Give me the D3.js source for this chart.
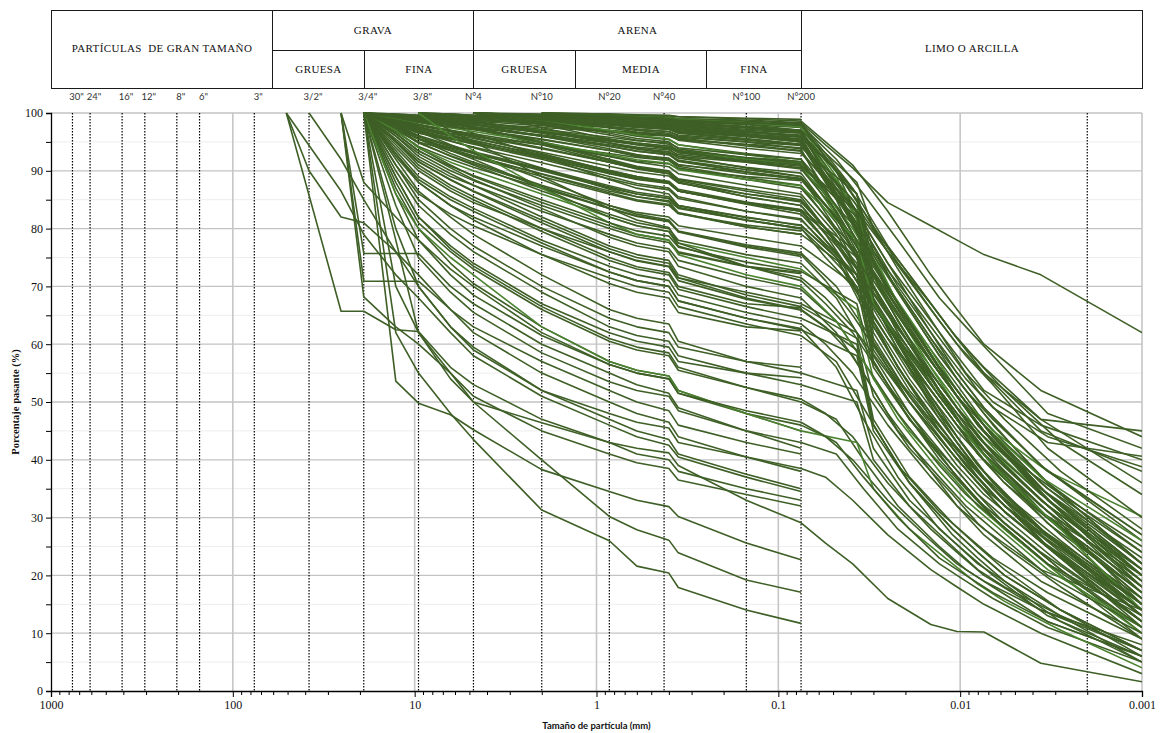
<!DOCTYPE html>
<html>
<head>
<meta charset="utf-8">
<script src="https://cdn.jsdelivr.net/npm/d3@7"></script>
<style>
  body { margin: 0; background: #fff; }
  svg { display: block; }
</style>
</head>
<body>
<svg id="chart" width="1161" height="733"></svg>
<script>
const _ = null;

// Sieve openings (mm): 2", 1 1/2", 1", 3/4", 1/2", 3/8", 1/4", N°4, N°10, N°20, N°30, N°40, N°45, N°100, N°200
const sieveSizes = [50.8, 38.1, 25.4, 19.05, 12.7, 9.525, 6.35, 4.75, 2.0, 0.85, 0.6, 0.40, 0.355, 0.15, 0.075];

// Hydrometer equivalent diameters (mm) for the three reading series
const hydroSizes = [
  [0.037, 0.030, 0.019, 0.011, 0.008, 0.0057, 0.0028, 0.001],
  [0.048, 0.034, 0.022, 0.013, 0.0093, 0.0066, 0.0033, 0.001],
  [0.055, 0.039, 0.025, 0.0145, 0.0104, 0.0074, 0.0036, 0.001]
];

// Samples with sieve analysis only (% passing per sieve)
const coarseSamples = [
  [100, _, 65.7, 65.7, 62.5, 62.2, 56, 53, 47, 43, 41, 40, 38, 35, 33],
  [100, 90, 82, 81, 76, 72, 66, 62, 55, 50, 48, 46.5, 44, 40.5, 38],
  [100, _, 86.5, 79, 72, 68, 62, 58, 51, 46, 44, 42.5, 40.5, 37, 34.5],
  [_, _, 100, 75.7, 75.7, 75.7, 70, 67, 60, 55, 53, 51.5, 49, 45, 42],
  [_, _, 100, 70.9, 70.9, 70.9, 66, 63, 57, 52, 50, 48.5, 46, 43, 41],
  [_, _, 100, 68.2, 63, 60, 55, 51, 45, 41, 39.5, 38.5, 36.5, 34, 32],
  [_, 100, 92, 85, 76, 70, 63, 59, 52, 47, 45, 43.5, 41, 37.5, 35],
  [_, _, _, 100, 62, 55, 48, 43.5, 31.3, 26, 21.6, 20.4, 17.9, 14, 11.7],
  [_, _, _, 100, 70, 62, 55, 50, 40, 30.2, 27.9, 26.1, 23.9, 19.2, 17.1],
  [_, _, _, 100, 53.6, 49.8, 47.8, 45.2, 38.3, 34.5, 33, 31.9, 30.2, 25.6, 22.7]
];

const sandySamples = [
  [_, _, _, _, _, _, _, 100, 99.6, 99.2, 99, 98.8, 98.6, 98.2, 98],
  [_, _, _, _, _, 100, 99.5, 99, 98, 97, 96.6, 96.3, 95.8, 95, 94.4],
  [_, _, _, 100, 99, 98, 97, 96.4, 94.5, 92.5, 91.7, 91.2, 90.3, 89, 88.3],
  [_, _, _, _, _, _, _, 100, 98.5, 96.5, 95.6, 95, 93.8, 92.2, 91.4],
  [_, _, _, 100, 97.5, 95.5, 93.5, 92.3, 89, 86, 84.8, 84, 82.6, 80.6, 79.6],
  [_, _, _, 100, 96, 93, 90, 88.3, 84, 80, 78.6, 77.6, 75.8, 73.4, 72.2],
  [_, _, _, 100, 98.5, 97, 95.2, 94, 90.5, 86.8, 85.5, 84.6, 82.8, 80.3, 79],
  [_, _, _, _, _, 100, 98, 96.5, 92.5, 88.5, 87, 86, 84, 81.5, 80],
  [_, _, _, 100, 95, 91, 87.5, 85.5, 80, 75, 73.4, 72.4, 70, 67, 66.3],
  [_, _, _, 100, 93, 88, 84, 81.5, 75.5, 70.5, 69, 68, 65.5, 63, 62.3],
  [_, _, _, 100, 97, 94, 91, 89, 84.5, 80.5, 79, 78, 76, 73.5, 72.4],
  [_, _, _, _, _, _, _, 100, 99, 98, 97.6, 97.3, 96.9, 96.2, 95.4],
  [_, _, _, 100, 91, 85, 80, 77, 70, 64.5, 63, 62, 59.5, 57, 56],
  [_, _, _, 100, 89, 82, 77, 74, 67, 62, 60.5, 59.5, 57, 55, 54.2],
  [_, _, _, 100, 87, 80, 74, 70.5, 63, 57, 55.5, 54.5, 52, 48, 45],
  [_, _, _, _, _, _, _, _, 100, 99.8, 99.7, 99.6, 99.4, 99.1, 98.9],
  [_, _, _, _, _, 100, 99.8, 99.5, 98.9, 98.2, 97.9, 97.6, 97.1, 96.3, 95.8],
  [_, _, _, 100, 99.5, 99, 98.4, 98, 96.7, 95.2, 94.6, 94.1, 93.3, 92.1, 91.2],
  [_, _, _, 100, 98.8, 97.5, 96.2, 95.3, 92.6, 89.8, 88.7, 87.9, 86.5, 84.3, 83],
  [_, _, _, 100, 97.2, 94.8, 92.6, 91.2, 87.3, 83.5, 82.1, 81.2, 79.4, 76.8, 75.2]
];

// Samples with sieve + hydrometer analysis: [series, sieve passing, hydrometer passing]
const fineSamples = [
  [2, [_, _, _, _, _, _, _, 100, 99.8, 99.5, 99.3, 99.2, 99, 98.8, 98.3], [94.5, 90.5, 84.5, 80.5, 78, 75.5, 72, 62]],
  [0, [_, _, _, _, _, _, _, 100, 99.6, 99.2, 99, 98.8, 98.5, 98, 97.5], [86, 74, 64, 54, 48, 43, 34, 22]],
  [1, [_, _, _, _, _, 100, 99.8, 99.6, 99.2, 98.8, 98.5, 98.2, 97.8, 97, 96.5], [90, 80, 69, 58, 52, 46, 36, 24]],
  [2, [_, _, _, _, _, _, _, _, 100, 99.5, 99.2, 99, 98.6, 98, 97], [91, 84, 74, 64, 58, 52, 46, 40]],
  [0, [_, _, _, 100, 99.8, 99.6, 99.4, 99.2, 98.8, 98.2, 97.8, 97.4, 96.8, 96, 95], [82, 68, 58, 48, 42, 37, 28, 17]],
  [1, [_, _, _, _, _, _, _, 100, 99.5, 99, 98.7, 98.4, 98, 97.4, 96.8], [88, 80, 70, 60, 54, 49, 43, 40.6]],
  [0, [_, _, _, _, _, 100, 99.7, 99.4, 99, 98.5, 98.2, 98, 97.5, 96.8, 96], [84, 71, 61, 51, 45, 40, 31, 19]],
  [2, [_, _, _, _, _, _, _, _, 100, 99.7, 99.5, 99.3, 99, 98.6, 98.2], [93, 87, 77, 67, 61, 55, 47, 45]],
  [1, [_, _, _, 100, 99.6, 99.3, 99, 98.7, 98.2, 97.6, 97.2, 96.8, 96.2, 95.3, 94.5], [86, 77, 66, 55, 49, 43, 33, 20]],
  [0, [_, _, _, _, _, _, _, 100, 99.4, 98.8, 98.4, 98.1, 97.6, 96.8, 95.8], [80, 65, 55, 45, 39, 34, 26, 15]],
  [2, [_, _, _, _, _, 100, 99.5, 99.2, 98.6, 98, 97.6, 97.2, 96.6, 95.6, 94.6], [90, 84, 74, 62, 55, 49, 39, 26]],
  [1, [_, _, _, _, _, _, _, 100, 99.6, 99.3, 99.1, 98.9, 98.6, 98.2, 97.8], [90, 83, 73, 62, 55, 50, 44, 38.8]],
  [0, [_, _, _, 100, 99.5, 99, 98.6, 98.2, 97.5, 96.8, 96.3, 96, 95.4, 94.5, 93.5], [78, 62, 52, 43, 37, 32, 24, 13]],
  [1, [_, _, _, _, _, _, _, _, 100, 99.2, 98.9, 98.6, 98.2, 97.5, 96.7], [87, 78, 67, 56, 50, 44, 35, 24]],
  [2, [_, _, _, _, _, 100, 99.6, 99.3, 98.8, 98.3, 98, 97.7, 97.2, 96.4, 95.5], [89, 82, 72, 61, 54, 48, 37, 22]],
  [0, [_, _, _, _, _, _, _, 100, 99.7, 99.4, 99.2, 99, 98.8, 98.4, 98], [85, 72, 62, 52, 46, 41, 34, 25]],
  [1, [_, _, _, 100, 99.7, 99.4, 99.1, 98.9, 98.4, 97.9, 97.5, 97.2, 96.7, 95.9, 95], [85, 75, 64, 52, 45, 39, 30, 16]],
  [2, [_, _, _, _, _, _, _, 100, 99.3, 98.7, 98.3, 98, 97.3, 96.3, 95], [88, 81, 70, 58, 51, 45, 35, 21]],
  [0, [_, _, _, _, _, 100, 99.5, 99, 98.3, 97.6, 97.2, 96.8, 96, 95, 93.8], [76, 60, 50, 41, 36, 31, 23, 11]],
  [1, [_, _, _, _, _, _, _, _, 100, 99.6, 99.4, 99.2, 98.9, 98.3, 97.6], [89, 79, 67, 56, 50, 45, 38, 30.2]],
  [2, [_, _, _, _, _, _, _, _, 100, 99.8, 99.6, 99.5, 99.3, 99, 98.6], [95, 91, 83, 72, 66, 60, 52, 44]],
  [1, [_, _, _, _, _, _, _, 100, 99.7, 99.5, 99.3, 99.1, 98.8, 98.3, 97.9], [92, 86, 78, 68, 63, 58, 48, 42]],
  [2, [_, _, _, _, _, 100, 99.6, 99.4, 99, 98.6, 98.3, 98, 97.6, 96.8, 96.2], [90, 85, 76, 66, 60, 55, 45, 38]],
  [0, [_, _, _, _, _, _, _, 100, 99.5, 99.1, 98.9, 98.6, 98.2, 97.6, 97], [88, 80, 72, 62, 57, 52, 43, 34]],
  [1, [_, _, _, 100, 99.8, 99.6, 99.4, 99.2, 98.8, 98.3, 98, 97.7, 97.3, 96.6, 96], [90, 83, 74, 64, 58, 53, 42, 30]],
  [2, [_, _, _, _, _, _, _, _, 100, 99.4, 99.1, 98.8, 98.4, 97.7, 97], [89, 84, 76, 67, 61, 56, 47, 36]],
  [0, [_, _, _, _, _, 100, 99.8, 99.6, 99.2, 98.8, 98.5, 98.3, 97.9, 97.2, 96.6], [86, 76, 68, 58, 52, 47, 38, 28]],
  [1, [_, _, _, _, _, _, _, 100, 99.2, 98.5, 98.1, 97.8, 97.2, 96.2, 95.2], [86, 78, 69, 58, 52, 47, 38, 27]],
  [0, [_, _, _, 100, 99.7, 99.3, 98.9, 98.6, 97.8, 96.8, 96.4, 96.1, 95.5, 94.6, 94], [86, 72, 62, 52, 46, 41, 32, 20]],
  [2, [_, _, _, _, _, _, _, 100, 99.1, 98.1, 97.6, 97.2, 96.5, 95.4, 94.6], [88, 82, 72, 61, 55, 49, 39, 27]],

  [0, [_, _, _, 100, 99, 98.5, 98, 97.5, 96, 94.5, 93.8, 93.2, 92.5, 91.5, 90.5], [80, 67, 57, 47, 41, 36, 27, 15]],
  [1, [_, _, _, 100, 98.5, 97.5, 96.5, 96, 94.5, 93, 92.3, 91.8, 91, 89.8, 88.5], [82, 73, 62, 51, 45, 39, 29, 17]],
  [2, [_, _, _, _, _, 100, 99, 98.5, 97, 95.5, 94.8, 94.2, 93.5, 92, 91], [85, 78, 68, 56, 49, 43, 33, 20]],
  [0, [_, _, _, 100, 99.2, 98.6, 97.8, 97.2, 95.5, 93.5, 92.5, 91.8, 90.5, 88.5, 87], [76, 63, 53, 43, 38, 33, 25, 13]],
  [1, [_, _, _, _, _, _, _, 100, 98.5, 96.8, 96, 95.4, 94.5, 93, 92], [83, 75, 64, 53, 47, 41, 32, 21]],
  [2, [_, _, _, 100, 98, 96.5, 95.5, 94.8, 92.5, 90, 89, 88, 86.5, 84.5, 83], [78, 72, 63, 52, 46, 40, 31, 18]],
  [0, [_, _, _, 100, 99.5, 99, 98, 97.5, 95, 92, 90.8, 90, 88.5, 86.5, 85], [74, 60, 50, 41, 36, 31, 23, 12]],
  [1, [_, _, _, _, _, 100, 98.5, 97.5, 95, 92.5, 91.5, 90.7, 89.5, 87.5, 86], [79, 71, 60, 48, 42, 36, 27, 15]],
  [2, [_, _, _, 100, 98.8, 97.8, 96.8, 96, 93.8, 91.5, 90.5, 89.8, 88.6, 86.8, 85.5], [80, 73, 63, 51, 44, 38, 28, 14]],
  [0, [_, _, _, _, _, _, _, 100, 98, 95.5, 94.5, 93.8, 92.5, 90.5, 89], [78, 64, 54, 44, 38, 33, 25, 14]],
  [1, [_, _, _, 100, 97.5, 95.5, 94, 93, 90, 87, 86, 85.2, 84, 82, 80.5], [75, 67, 56, 46, 40, 35, 26, 14]],
  [0, [_, _, _, 100, 99, 98, 97, 96.2, 94, 91.5, 90.4, 89.5, 88, 85.5, 84], [73, 58, 48, 39, 34, 29, 21, 10]],
  [2, [_, _, _, _, _, 100, 98.8, 98, 96, 93.8, 92.8, 92, 90.8, 88.8, 87.5], [82, 76, 66, 54, 47, 41, 31, 18]],
  [0, [_, _, _, 100, 98.2, 96.8, 95.5, 94.6, 92, 89, 87.8, 87, 85.5, 83, 81.5], [72, 57, 47, 38, 33, 28, 20, 9]],
  [1, [_, _, _, 100, 99.4, 98.8, 98.2, 97.6, 96, 94.2, 93.4, 92.8, 91.8, 90.2, 89], [80, 71, 59, 47, 41, 35, 25, 12]],
  [2, [_, _, _, _, _, _, _, 100, 98.8, 97, 96.2, 95.5, 94.5, 92.8, 91.5], [86, 80, 70, 59, 52, 46, 37, 26]],
  [0, [_, _, _, 100, 98.5, 97.2, 96, 95, 92.2, 89.5, 88.5, 87.8, 86.5, 84.5, 83], [75, 61, 51, 42, 37, 32, 25, 14]],
  [1, [_, _, _, 100, 99, 98, 96.8, 95.8, 93, 90, 88.8, 88, 86.5, 84.2, 82.5], [76, 67, 56, 45, 39, 34, 25, 13]],
  [2, [_, _, _, _, _, 100, 98.4, 97.3, 94.5, 91.5, 90.3, 89.5, 88, 85.5, 84], [79, 72, 62, 50, 43, 37, 28, 16]],
  [0, [_, _, _, 100, 99.6, 99.2, 98.8, 98.4, 97.2, 95.8, 95.2, 94.8, 94, 92.8, 92], [81, 67, 57, 47, 41, 36, 28, 16]],
  [2, [_, _, _, 100, 97, 95, 93.5, 92.5, 89.5, 86.5, 85.5, 84.8, 83.5, 81.5, 80], [76, 71, 61, 51, 45, 40, 31, 20]],
  [1, [_, _, _, _, _, _, _, 100, 97.5, 94.8, 93.8, 93, 91.8, 89.8, 88.5], [81, 73, 62, 51, 45, 39, 30, 18]],
  [0, [_, _, _, 100, 99.3, 98.7, 98.1, 97.6, 96.2, 94.8, 94.1, 93.6, 92.8, 91.6, 90.8], [82, 71, 62, 52, 46, 41, 31, 18]],
  [1, [_, _, _, 100, 98.8, 97.6, 96.4, 95.6, 93.2, 90.8, 89.8, 89.1, 87.9, 86, 84.8], [78, 70, 61, 51, 45, 40, 30, 17]],
  [2, [_, _, _, _, _, 100, 99.2, 98.6, 96.8, 94.8, 93.9, 93.3, 92.2, 90.6, 89.6], [84, 78, 69, 58, 51, 46, 36, 22]],
  [0, [_, _, _, 100, 98.6, 97.4, 96.1, 95.2, 92.8, 90.1, 89, 88.2, 86.8, 84.6, 83.3], [76, 67, 59, 49, 43, 38, 29, 15]],
  [1, [_, _, _, _, _, _, _, 100, 98.2, 96.2, 95.3, 94.6, 93.4, 91.5, 90.3], [83, 75, 66, 55, 49, 43, 33, 19]],
  [2, [_, _, _, 100, 97.8, 95.9, 94.2, 93.1, 90.2, 87.2, 86, 85.2, 83.7, 81.4, 80.1], [75, 70, 61, 52, 46, 41, 32, 19]],
  [0, [_, _, _, 100, 99.1, 98.3, 97.4, 96.8, 94.9, 92.8, 91.9, 91.3, 90.2, 88.5, 87.4], [78, 67, 58, 48, 42, 37, 28, 14]],
  [1, [_, _, _, 100, 96.8, 94.2, 92, 90.6, 87, 83.5, 82.2, 81.3, 79.6, 77.2, 75.8], [70, 63, 54, 45, 40, 35, 27, 15]],
  [2, [_, _, _, _, _, 100, 98.6, 97.6, 94.8, 91.8, 90.6, 89.8, 88.3, 86, 84.6], [80, 74, 65, 55, 49, 44, 35, 22]],
  [0, [_, _, _, _, _, _, _, 100, 98.8, 97.4, 96.7, 96.2, 95.3, 93.9, 93], [83, 70, 60, 50, 44, 39, 30, 17]],
  [1, [_, _, _, 100, 99.5, 99, 98.4, 98, 96.8, 95.4, 94.8, 94.3, 93.5, 92.3, 91.6], [84, 76, 67, 56, 50, 44, 34, 20]],
  [2, [_, _, _, 100, 98.2, 96.6, 95.1, 94.1, 91.4, 88.6, 87.5, 86.7, 85.2, 83, 81.7], [77, 72, 63, 54, 48, 43, 34, 21]],
  [0, [_, _, _, 100, 99.4, 98.9, 98.3, 97.9, 96.6, 95.1, 94.5, 94, 93.1, 91.8, 91], [83, 69, 60, 50, 44, 39, 30, 18]],
  [1, [_, _, _, _, _, _, _, 100, 98.9, 97.6, 97, 96.5, 95.7, 94.3, 93.4], [86, 77, 67, 56, 50, 44, 34, 21]],
  [2, [_, _, _, 100, 98.4, 97, 95.7, 94.8, 92.3, 89.6, 88.6, 87.9, 86.5, 84.4, 83.2], [78, 72, 63, 53, 47, 42, 33, 20]],
  [0, [_, _, _, 100, 97.6, 95.6, 93.8, 92.6, 89.4, 86.2, 85, 84.2, 82.6, 80.3, 79], [72, 59, 50, 41, 36, 31, 23, 12]],
  [1, [_, _, _, _, _, 100, 99.1, 98.4, 96.5, 94.3, 93.4, 92.8, 91.6, 89.8, 88.7], [82, 73, 63, 52, 46, 40, 31, 19]],
  [2, [_, _, _, 100, 99.2, 98.4, 97.6, 97.1, 95.4, 93.5, 92.7, 92.2, 91.1, 89.5, 88.6], [84, 78, 68, 57, 51, 45, 35, 23]],
  [1, [_, _, _, 100, 97.9, 96.1, 94.4, 93.3, 90.4, 87.4, 86.3, 85.5, 84, 81.9, 80.6], [75, 66, 56, 45, 39, 34, 25, 14]],

  [0, [_, _, _, 100, 97, 94, 91.5, 90, 86, 82, 80.5, 79.5, 77.5, 75, 73], [66, 54, 45, 37, 32, 28, 20, 10]],
  [1, [_, _, _, 100, 95.5, 92, 89, 87.5, 83, 79, 77.5, 76.5, 74.5, 71.5, 69.5], [64, 57, 48, 39, 34, 30, 22, 11]],
  [2, [_, _, _, 100, 98, 96, 93.5, 92, 87, 82, 80.5, 79.5, 77, 73.5, 71.5], [68, 63, 55, 45, 39, 34, 26, 14]],
  [0, [_, _, _, 100, 94, 90, 86.5, 84.5, 80, 76, 74.5, 73.5, 71.5, 69, 67], [62, 51, 42, 34, 29, 25, 18, 9]],
  [1, [_, _, _, 100, 96.5, 93.5, 90.5, 88.5, 83.5, 78.5, 77, 76, 73.5, 70, 68], [62, 55, 45, 37, 32, 28, 20, 11]],
  [2, [_, _, _, _, _, 100, 97, 95, 89, 83.5, 81.5, 80.2, 77.5, 73.5, 71], [67, 62, 53, 43, 37, 32, 24, 12]],
  [0, [_, _, _, 100, 92.5, 88, 84, 82, 77, 72.5, 71, 70, 67.5, 64.5, 62.5], [58, 45, 36, 28, 24, 20, 14, 7]],
  [1, [_, _, _, 100, 97.5, 95, 92.5, 91, 86.5, 82.5, 81, 80, 78, 75.5, 74], [68, 60, 50, 40, 35, 30, 22, 13]],
  [2, [_, _, _, 100, 93.5, 89, 85.5, 83.5, 78, 73.5, 72, 71, 68.5, 65.5, 63.5], [60, 55, 46, 37, 32, 28, 21, 14]],
  [0, [_, _, _, 100, 96, 92.5, 89.5, 87.5, 82, 77, 75.5, 74.5, 72, 68.5, 66.5], [61, 47, 37, 29, 25, 21, 14, 6]],
  [1, [_, _, _, 100, 91, 86, 82.5, 80.5, 75.5, 71.5, 70, 69, 66.5, 63.5, 61.5], [57, 49, 39, 31, 27, 23, 17, 9]],
  [2, [_, _, _, 100, 98.5, 96.8, 94.5, 93, 88.5, 84, 82.5, 81.5, 79.5, 77, 75.5], [71, 65, 56, 46, 40, 35, 27, 15]],
  [0, [_, _, _, 100, 94.5, 90.5, 87, 85, 79.5, 74.5, 73, 72, 69.5, 66.5, 64.5], [60, 46, 36, 28, 24, 20, 14, 7]],
  [1, [_, _, _, _, _, 100, 96, 93.5, 87, 81, 79, 78, 75.5, 72, 70], [64, 57, 47, 38, 33, 29, 21, 11]],
  [2, [_, _, _, 100, 95, 91.5, 88.5, 86.5, 81.5, 76.5, 75, 74, 71.5, 68, 66], [63, 58, 48, 38, 32, 27, 19, 10]],
  [0, [_, _, _, 100, 97.8, 95.5, 93, 91.5, 87.5, 84, 82.8, 82, 80.5, 78.5, 77], [70, 57, 47, 39, 34, 30, 22, 12]],
  [1, [_, _, _, 100, 93, 88.5, 85, 83, 77.5, 72.5, 71, 70, 67.5, 64.5, 62.7], [56, 47, 37, 28, 24, 20, 13, 6]],
  [0, [_, _, _, 100, 95.2, 91.6, 88.4, 86.4, 81, 76, 74.4, 73.4, 71, 67.8, 65.9], [59, 46, 36, 27, 23, 19, 12, 5]],
  [0, [_, _, _, 100, 96.4, 93.4, 90.8, 89.2, 85, 81, 79.6, 78.7, 76.8, 74.2, 72.6], [67, 56, 47, 38, 33, 29, 21, 11]],

  [0, [_, _, _, 100, 90, 84, 79, 76, 69, 63, 61.5, 60.5, 58, 55, 53], [50, 40, 32, 25, 21, 18, 13, 7]],
  [1, [_, _, _, 100, 88, 81, 76, 73, 66, 60.5, 59, 58, 55.5, 52.5, 50], [47, 40, 32, 25, 21, 18, 12, 6]],
  [2, [_, _, _, 100, 86, 78, 72, 68.5, 61.5, 56.5, 55, 54, 51.5, 48, 46], [44, 40, 33, 26, 22, 19, 14, 8]],
  [0, [_, _, _, 100, 92, 86.5, 82, 79, 72, 66, 64.5, 63.5, 60.5, 57, 55], [52, 42, 33, 26, 22, 19, 13, 5]],
  [1, [_, _, _, 100, 84, 75, 69, 65.5, 58.5, 53.5, 52, 51, 48.5, 45, 43], [41, 35, 28, 22, 19, 16, 11, 5]],
  [2, [_, _, _, 100, 89, 82, 76.5, 73.5, 66.5, 61, 59.5, 58.5, 56, 52.5, 50.5], [48, 44, 36, 28, 24, 20, 14, 7]],
  [2, [_, _, _, 100, 78, 62, 54, 50, 46.4, 43, 42, 41.2, 39, 33, 29.1], [25.6, 22, 16, 11.5, 10.3, 10.2, 4.8, 1.6]],
  [0, [_, _, _, 100, 86, 80, 75, 72, 63, 57, 55.5, 54.5, 52, 48, 45], [43, 35, 28, 22, 18.5, 15.5, 10.5, 4]],
  [1, [_, _, 100, 88, 82, 78, 73, 70, 62, 56.5, 55, 54, 51.5, 48.5, 46.5], [43, 37, 30, 23, 20, 17, 12, 6]],
  [2, [_, _, _, 100, 80, 70, 63, 59.5, 52, 48, 46.5, 45.5, 43, 40.5, 38.5], [37, 33, 27, 21, 18, 15, 10, 3]]
];

// Sieve designations drawn as dotted reference lines
const sieveLabels = ['30"', '24"', '16"', '12"', '8"', '6"', '3"', '3/2"', '3/4"', '3/8"', 'N°4', 'N°10', 'N°20', 'N°40', 'N°100', 'N°200'];
const sieveOpenings = [762, 609.6, 406.4, 304.8, 203.2, 152.4, 76.2, 38.1, 19.05, 9.525, 4.75, 2.0, 0.85, 0.425, 0.15, 0.075];
const clayLimit = 0.002;

// Classification header (size ranges in mm)
const classNames = ['PARTÍCULAS  DE GRAN TAMAÑO', 'GRAVA', 'ARENA', 'LIMO O ARCILLA'];
const classBounds = [[1000, 61], [61, 4.75], [4.75, 0.075], [0.075, 0.001]];
const subNames = ['GRUESA', 'FINA', 'GRUESA', 'MEDIA', 'FINA'];
const subBounds = [[61, 19.05], [19.05, 4.75], [4.75, 1.31], [1.31, 0.25], [0.25, 0.075]];

const yTicks = d3.range(0, 101, 5);
const xDecades = [1000, 100, 10, 1, 0.1, 0.01, 0.001];

// ---------------------------------------------------------------
const svg = d3.select('#chart');
const plotL = 51, plotR = 1142, plotT = 113, plotB = 691;

const x = d3.scaleLog().domain([1000, 0.001]).range([plotL, plotR]);
const y = d3.scaleLinear().domain([0, 100]).range([plotB, plotT]);

const serif = '"Liberation Serif", "Times New Roman", serif';
const sans = 'Lato, "Open Sans", "Liberation Sans", sans-serif';

// Header table
const hTop = 10.5, hMid = 50.5, hBot = 88.5;
const table = svg.append('g').attr('fill', 'none').attr('stroke', '#1a1a1a').attr('stroke-width', 1);
function headerText(cx, cy, label) {
  svg.append('text')
    .attr('x', cx).attr('y', cy).attr('dy', '0.35em').attr('text-anchor', 'middle')
    .style('font-family', serif).style('font-size', '11px').style('white-space', 'pre')
    .style('letter-spacing', '0.4px').attr('fill', '#111').text(label);
}
classBounds.forEach((b, i) => {
  const twoRow = classNames[i] === 'GRAVA' || classNames[i] === 'ARENA';
  const x0 = Math.round(x(b[0])) + 0.5, x1 = Math.round(x(b[1])) + 0.5;
  table.append('rect').attr('x', x0).attr('y', hTop).attr('width', x1 - x0).attr('height', (twoRow ? hMid : hBot) - hTop);
  headerText((x0 + x1) / 2, twoRow ? (hTop + hMid) / 2 : (hTop + hBot) / 2 - 1, classNames[i]);
});
subBounds.forEach((b, i) => {
  const x0 = Math.round(x(b[0])) + 0.5, x1 = Math.round(x(b[1])) + 0.5;
  table.append('rect').attr('x', x0).attr('y', hMid).attr('width', x1 - x0).attr('height', hBot - hMid);
  headerText((x0 + x1) / 2, (hMid + hBot) / 2, subNames[i]);
});

// Grid
const grid = svg.append('g');
yTicks.filter(v => v % 10 !== 0).forEach(v => {
  grid.append('line').attr('x1', plotL).attr('x2', plotR).attr('y1', y(v)).attr('y2', y(v))
    .attr('stroke', '#ededed').attr('stroke-width', 1);
});
yTicks.filter(v => v % 10 === 0 && v > 0).forEach(v => {
  grid.append('line').attr('x1', plotL).attr('x2', plotR).attr('y1', y(v)).attr('y2', y(v))
    .attr('stroke', '#c3c3c3').attr('stroke-width', 1.3);
});
xDecades.slice(1).forEach(v => {
  grid.append('line').attr('x1', x(v)).attr('x2', x(v)).attr('y1', plotT).attr('y2', plotB)
    .attr('stroke', '#c6c6c6').attr('stroke-width', 1.6);
});

// Dotted sieve lines and their labels
const marks = svg.append('g');
sieveOpenings.concat([clayLimit]).forEach(v => {
  marks.append('line').attr('x1', x(v)).attr('x2', x(v)).attr('y1', plotT).attr('y2', plotB)
    .attr('stroke', '#000').attr('stroke-width', 1.2).attr('stroke-dasharray', '1.5,1.5');
});
sieveLabels.forEach((t, i) => {
  const inch = t.indexOf('"') >= 0;
  svg.append('text')
    .attr('x', x(sieveOpenings[i]) + (inch ? 4 : 0)).attr('y', 97)
    .attr('dy', '0.35em').attr('text-anchor', 'middle')
    .style('font-family', sans).style('font-size', '9.5px').attr('fill', '#333')
    .text(t);
});

// Curves
svg.append('clipPath').attr('id', 'plot-clip')
  .append('rect').attr('x', plotL).attr('y', plotT - 2).attr('width', plotR - plotL).attr('height', plotB - plotT + 2);

const line = d3.line().x(d => x(d[0])).y(d => y(d[1]));
const curves = svg.append('g').attr('clip-path', 'url(#plot-clip)')
  .attr('fill', 'none').attr('stroke-linejoin', 'round');

function sievePoints(row) {
  const pts = [];
  row.forEach((v, i) => { if (v !== null) pts.push([sieveSizes[i], v]); });
  return pts;
}

coarseSamples.concat(sandySamples).forEach(row => {
  curves.append('path').attr('d', line(sievePoints(row)))
    .attr('stroke', '#3e5f26').attr('stroke-width', 1.6);
});
fineSamples.forEach((s, k) => {
  const pts = sievePoints(s[1]);
  s[2].forEach((v, i) => pts.push([hydroSizes[s[0]][i], v]));
  curves.append('path').attr('d', line(pts))
    .attr('stroke', k % 13 === 6 ? '#4b8230' : '#3e5f26').attr('stroke-width', 1.6);
});

// Axes
const yAxis = d3.axisLeft(y).tickValues(yTicks).tickSize(5)
  .tickFormat(d => d % 10 === 0 ? d : '');
const gy = svg.append('g').attr('transform', `translate(${plotL},0)`).call(yAxis);
gy.selectAll('text').style('font-family', serif).style('font-size', '12px').attr('fill', '#111').attr('x', -8);

const minorX = [];
for (let e = -3; e < 3; e++) for (let m = 2; m <= 9; m++) minorX.push(m * Math.pow(10, e));
const gxMinor = svg.append('g').attr('transform', `translate(0,${plotB})`)
  .call(d3.axisBottom(x).tickValues(minorX).tickSize(4).tickFormat(''));
gxMinor.select('.domain').remove();
const gx = svg.append('g').attr('transform', `translate(0,${plotB})`)
  .call(d3.axisBottom(x).tickValues(xDecades).tickSize(6).tickFormat(d => String(d)));
gx.selectAll('text').style('font-family', serif).style('font-size', '12px').attr('fill', '#111').attr('y', 9);

[gy, gx, gxMinor].forEach(g => {
  g.select('.domain').attr('stroke', '#000').attr('stroke-width', 1.3);
  g.selectAll('.tick line').attr('stroke', '#000');
});

// Axis titles
svg.append('text')
  .attr('transform', `translate(15,${(plotT + plotB) / 2}) rotate(-90)`)
  .attr('text-anchor', 'middle').attr('dy', '0.35em')
  .style('font-family', serif).style('font-size', '10.5px').style('font-weight', 'bold').attr('fill', '#111')
  .text('Porcentaje pasante (%)');
svg.append('text')
  .attr('x', x(1)).attr('y', 726).attr('text-anchor', 'middle').attr('dy', '0.35em')
  .style('font-family', sans).style('font-size', '9.5px').style('font-weight', 'bold').attr('fill', '#111')
  .text('Tamaño de partícula (mm)');
</script>
</body>
</html>
